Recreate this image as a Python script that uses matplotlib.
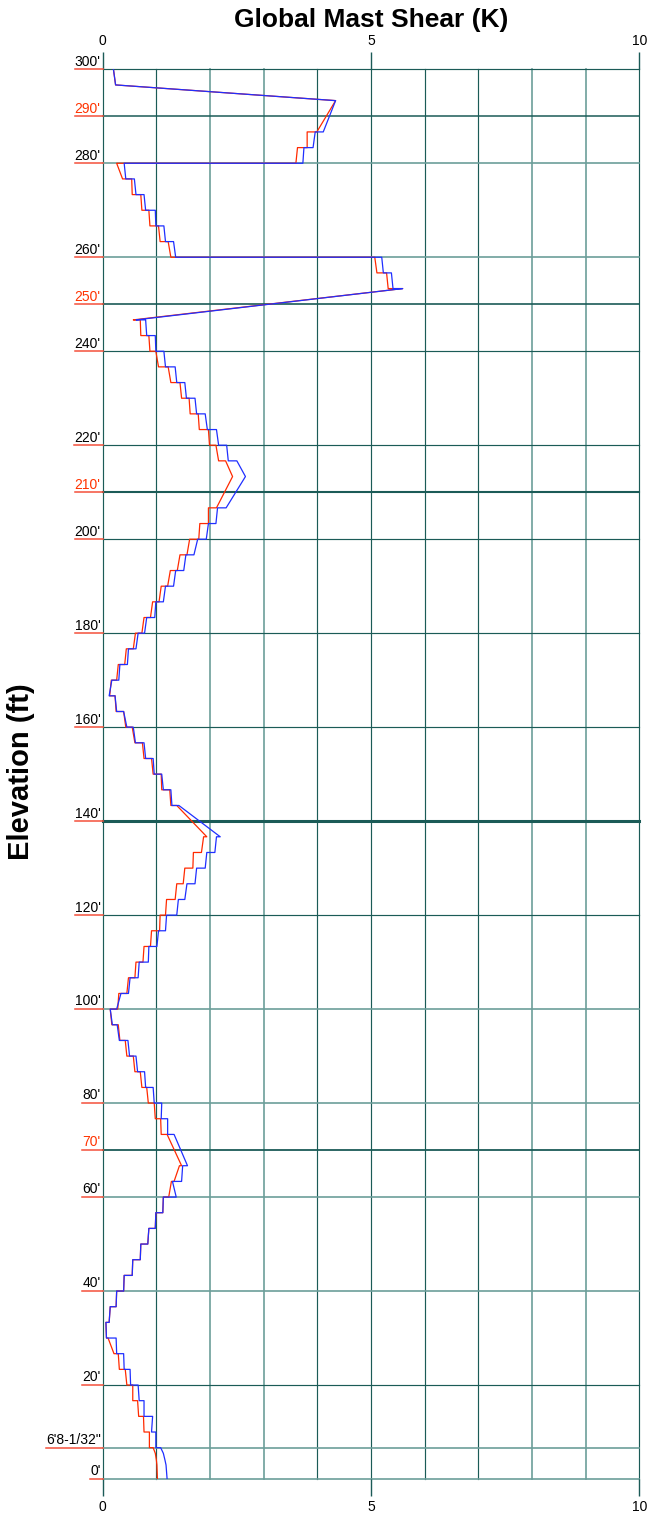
import matplotlib
matplotlib.use("Agg")
from matplotlib import pyplot as plt

plt.rcParams['font.family'] = ['Liberation Sans', 'DejaVu Sans']

# node elevations (ft), top of mast to base
elevations = [300, 296.67, 293.33, 286.67, 283.33, 280,
              276.67, 273.33, 270, 266.67, 263.33, 260,
              256.67, 253.33, 246.67, 243.33, 240,
              236.67, 233.33, 230, 226.67, 223.33, 220,
              216.67, 213.33, 206.67, 203.33, 200,
              196.67, 193.33, 190, 186.67, 183.33, 180,
              176.67, 173.33, 170, 166.67, 163.33, 160,
              156.67, 153.33, 150, 146.67, 143.33,
              136.67, 133.33, 130, 126.67, 123.33, 120,
              116.67, 113.33, 110, 106.67, 103.33, 100,
              96.67, 93.33, 90, 86.67, 83.33, 80,
              76.67, 73.33, 66.67, 63.33, 60,
              56.67, 53.33, 50, 46.67, 43.33, 40,
              36.67, 33.33, 30, 26.67, 23.33, 20,
              16.67, 13.33, 10, 6.67, 5.47, 4.04, 2.98, 0]

# shear (K) just above / just below each node
red_above = [0.20, 0.24, 4.34, 3.99, 3.81, 3.60,
             0.37, 0.55, 0.73, 0.88, 1.07, 1.27,
             5.11, 5.32, 0.57, 0.71, 0.88,
             1.04, 1.27, 1.47, 1.63, 1.80, 1.99,
             2.16, 2.42, 2.12, 1.97, 1.79,
             1.57, 1.39, 1.21, 1.05, 0.89, 0.73,
             0.57, 0.41, 0.26, 0.13, 0.25, 0.43,
             0.60, 0.77, 0.94, 1.10, 1.27,
             1.94, 1.84, 1.68, 1.50, 1.35, 1.17,
             1.06, 0.89, 0.75, 0.60, 0.45, 0.28,
             0.17, 0.32, 0.45, 0.60, 0.73, 0.85,
             0.98, 1.09, 1.47, 1.33, 1.23,
             1.12, 0.98, 0.84, 0.70, 0.55, 0.39,
             0.25, 0.12, 0.07, 0.21, 0.31, 0.45,
             0.56, 0.67, 0.77, 0.87, 0.98, 1.00, 1.01, 1.02]
red_below = [0.20, 0.24, 4.34, 3.81, 3.63, 0.26,
             0.54, 0.71, 0.86, 1.04, 1.22, 5.07,
             5.29, 5.59, 0.70, 0.86, 0.99,
             1.22, 1.44, 1.61, 1.78, 1.97, 2.11,
             2.29, 2.42, 1.97, 1.81, 1.62,
             1.44, 1.26, 1.09, 0.93, 0.77, 0.61,
             0.44, 0.29, 0.16, 0.23, 0.39, 0.55,
             0.74, 0.91, 1.09, 1.25, 1.38,
             1.88, 1.69, 1.53, 1.38, 1.19, 1.07,
             0.91, 0.77, 0.62, 0.48, 0.30, 0.14,
             0.29, 0.42, 0.57, 0.70, 0.82, 0.96,
             1.08, 1.20, 1.43, 1.28, 1.13,
             0.99, 0.86, 0.71, 0.56, 0.40, 0.26,
             0.14, 0.06, 0.10, 0.29, 0.42, 0.56,
             0.65, 0.76, 0.87, 0.94, 0.98, 1.00, 1.01, 1.02]
blue_above = [0.20, 0.24, 4.34, 4.11, 3.92, 3.73,
              0.43, 0.62, 0.80, 0.99, 1.17, 1.36,
              5.23, 5.41, 0.62, 0.82, 0.99,
              1.17, 1.38, 1.56, 1.75, 1.95, 2.16,
              2.34, 2.66, 2.30, 2.11, 1.93,
              1.70, 1.51, 1.32, 1.13, 0.97, 0.78,
              0.62, 0.46, 0.30, 0.12, 0.26, 0.45,
              0.61, 0.80, 0.96, 1.13, 1.29,
              2.19, 2.09, 1.91, 1.72, 1.53, 1.38,
              1.17, 1.01, 0.85, 0.66, 0.48, 0.26,
              0.18, 0.31, 0.50, 0.65, 0.80, 0.96,
              1.09, 1.21, 1.58, 1.47, 1.37,
              1.12, 0.98, 0.84, 0.70, 0.55, 0.39,
              0.25, 0.12, 0.07, 0.26, 0.40, 0.52,
              0.68, 0.77, 0.91, 0.99, 1.13, 1.16, 1.18, 1.20]
blue_below = [0.20, 0.24, 4.34, 3.96, 3.75, 0.40,
              0.59, 0.77, 0.98, 1.14, 1.32, 5.20,
              5.38, 5.59, 0.80, 0.98, 1.14,
              1.35, 1.53, 1.72, 1.91, 2.12, 2.31,
              2.50, 2.66, 2.14, 1.97, 1.77,
              1.55, 1.36, 1.17, 0.99, 0.82, 0.66,
              0.48, 0.32, 0.17, 0.23, 0.39, 0.57,
              0.77, 0.94, 1.10, 1.27, 1.42,
              2.12, 1.94, 1.75, 1.57, 1.41, 1.19,
              1.04, 0.86, 0.68, 0.51, 0.34, 0.14,
              0.27, 0.47, 0.62, 0.78, 0.94, 1.10,
              1.21, 1.33, 1.49, 1.30, 1.13,
              0.99, 0.86, 0.71, 0.56, 0.40, 0.26,
              0.14, 0.06, 0.25, 0.39, 0.51, 0.66,
              0.77, 0.93, 0.99, 1.08, 1.13, 1.16, 1.18, 1.20]

level_values = [300, 290, 280, 260, 250, 240, 220, 210, 200, 180, 160,
                140, 120, 100, 80, 70, 60, 40, 20, 6.67, 0]
level_labels = ["300'", "290'", "280'", "260'", "250'", "240'", "220'", "210'",
                "200'", "180'", "160'", "140'", "120'", "100'", "80'", "70'",
                "60'", "40'", "20'", "6'8-1/32\"", "0'"]
joint_levels = [290, 250, 210, 70]

x_ticks = [0, 5, 10]

grid_color = "#1b5b57"
soft_color = "#6c9e9a"
line_widths = {140: 2.2, 210: 1.5, 70: 1.3, 250: 1.2, 290: 1.1}
soft_vlines = [2, 3, 8, 9]
soft_hlines = [280, 260, 100, 80, 60, 40, 6.67, 0]


def staircase(above, below):
    xs, ys = [], []
    for e, a, b in zip(elevations, above, below):
        xs += [a, b]
        ys += [e, e]
    return xs, ys


fig = plt.figure(figsize=(6.48, 15.16), dpi=100)
ax = fig.add_axes([0.1585, 0.0244, 0.8281, 0.9299])
ax.set_xlim(0, 10)
ax.set_ylim(0, 300)
for s in ax.spines.values():
    s.set_visible(False)

for x in range(0, 11):
    if x in soft_vlines:
        ax.axvline(x, color=soft_color, lw=1.2, zorder=1, clip_on=False)
    else:
        ax.axvline(x, color=grid_color, lw=0.85, zorder=1, clip_on=False)
for lvl in level_values:
    if lvl in soft_hlines:
        ax.axhline(lvl, color=soft_color, lw=1.2, zorder=1, clip_on=False)
    else:
        ax.axhline(lvl, color=grid_color, lw=line_widths.get(lvl, 0.85), zorder=1,
                   clip_on=False)

rx, ry = staircase(red_above, red_below)
bx, by = staircase(blue_above, blue_below)
ax.plot(rx, ry, color="#ff2a00", lw=0.9, zorder=3)
ax.plot(bx, by, color="#1f2fff", lw=0.9, zorder=4)

ax.set_xticks(x_ticks)
ax.set_xticklabels([str(t) for t in x_ticks])
ax.tick_params(axis='x', top=True, labeltop=True, bottom=True, labelbottom=True,
               length=12, width=1, color=grid_color, labelsize=10, pad=3)
ax.set_yticks([])

texts = []
for lvl, lab in zip(level_values, level_labels):
    c = "#ff3300" if lvl in joint_levels else "black"
    t = ax.annotate(lab, xy=(0, lvl), xytext=(-1.5, 2.6), textcoords='offset points',
                    ha='right', va='baseline', fontsize=10, color=c,
                    annotation_clip=False)
    texts.append((lvl, t))

fig.canvas.draw()
renderer = fig.canvas.get_renderer()
inv = ax.transData.inverted()
for lvl, t in texts:
    bb = t.get_window_extent(renderer)
    x_left = inv.transform((bb.x0, 0))[0]
    ax.plot([x_left, 0], [lvl, lvl], color="#f4503a", lw=1.1, clip_on=False, zorder=2)

fig.text(371 / 648, 1 - 27 / 1516, "Global Mast Shear (K)", ha='center', va='baseline',
         fontsize=19, fontweight='bold')
fig.text(21 / 648, 1 - 772 / 1516, "Elevation (ft)", ha='center', va='center',
         rotation=90, fontsize=21, fontweight='bold')

fig.savefig("out.png", dpi=100)
